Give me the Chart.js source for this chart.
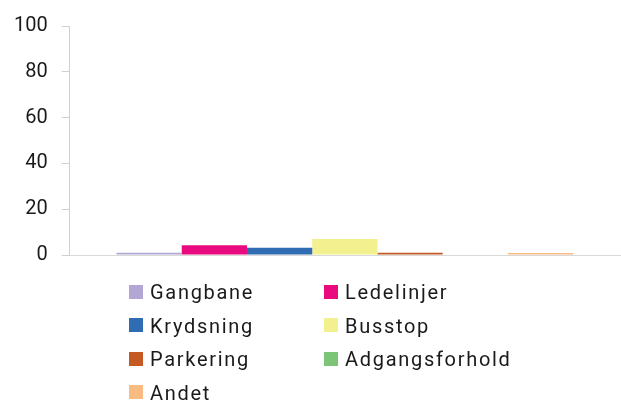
<!DOCTYPE html>
<html>
<head>
<meta charset="utf-8">
<script src="https://cdn.jsdelivr.net/npm/chart.js@4"></script>
<style>
  html, body { margin: 0; padding: 0; background: #fff; }
  #wrap { position: relative; width: 621px; height: 403px; }
  #chart { position: absolute; left: 0; top: 0; }
  #legend { position: absolute; left: 129px; top: 275px; width: 480px;
    font-family: Roboto, sans-serif; font-size: 20px; color: #1a1a1a; letter-spacing: 1.7px; }
  .item { position: absolute; height: 34px; line-height: 34px; white-space: nowrap; }
  .box { display: inline-block; width: 14px; height: 14px; vertical-align: middle; margin-right: 7px; position: relative; top: -2px; }
</style>
</head>
<body>
<div id="wrap">
  <canvas id="chart" width="621" height="403"></canvas>
  <div id="legend"></div>
</div>
<script>
const categories = [""];
const seriesNames = ["Gangbane", "Ledelinjer", "Krydsning", "Busstop", "Parkering", "Adgangsforhold", "Andet"];
const seriesValues = [1, 4.3, 3.2, 7, 1, 0, 0.9];
const seriesColors = ["#b1a6d4", "#ea0a7f", "#2f6cb3", "#f3f18f", "#c45a22", "#7cc577", "#f8bb82"];
const yTicks = [0, 20, 40, 60, 80, 100];

const datasets = seriesNames.map((name, i) => ({
  label: name,
  data: [seriesValues[i]],
  backgroundColor: seriesColors[i],
  borderWidth: 0,
  categoryPercentage: 0.83,
  barPercentage: 1
}));

const chart = new Chart(document.getElementById('chart'), {
  type: 'bar',
  data: { labels: categories, datasets },
  options: {
    responsive: false,
    animation: false,
    layout: { padding: { top: 9, right: 1, bottom: 140, left: 0 } },
    plugins: { legend: { display: false }, tooltip: { enabled: false } },
    scales: {
      x: {
        ticks: { display: false },
        grid: { display: false },
        border: { color: '#d9d9d9', width: 1 }
      },
      y: {
        min: 0, max: 100,
        afterBuildTicks: (s) => { s.ticks = yTicks.map(v => ({ value: v })); },
        ticks: { padding: 14, color: '#1a1a1a', font: { family: 'Roboto', size: 20 } },
        grid: { drawOnChartArea: false, tickLength: 8, color: '#d0d0d0' },
        border: { color: '#d0d0d0', width: 1 }
      }
    }
  }
});

const legend = document.getElementById('legend');
seriesNames.forEach((name, i) => {
  const el = document.createElement('div');
  el.className = 'item';
  el.style.left = (i % 2 === 0 ? 0 : 195) + 'px';
  el.style.top = (Math.floor(i / 2) * 33.5) + 'px';
  const box = document.createElement('span');
  box.className = 'box';
  box.style.background = seriesColors[i];
  el.appendChild(box);
  el.appendChild(document.createTextNode(name));
  legend.appendChild(el);
});
</script>
</body>
</html>
